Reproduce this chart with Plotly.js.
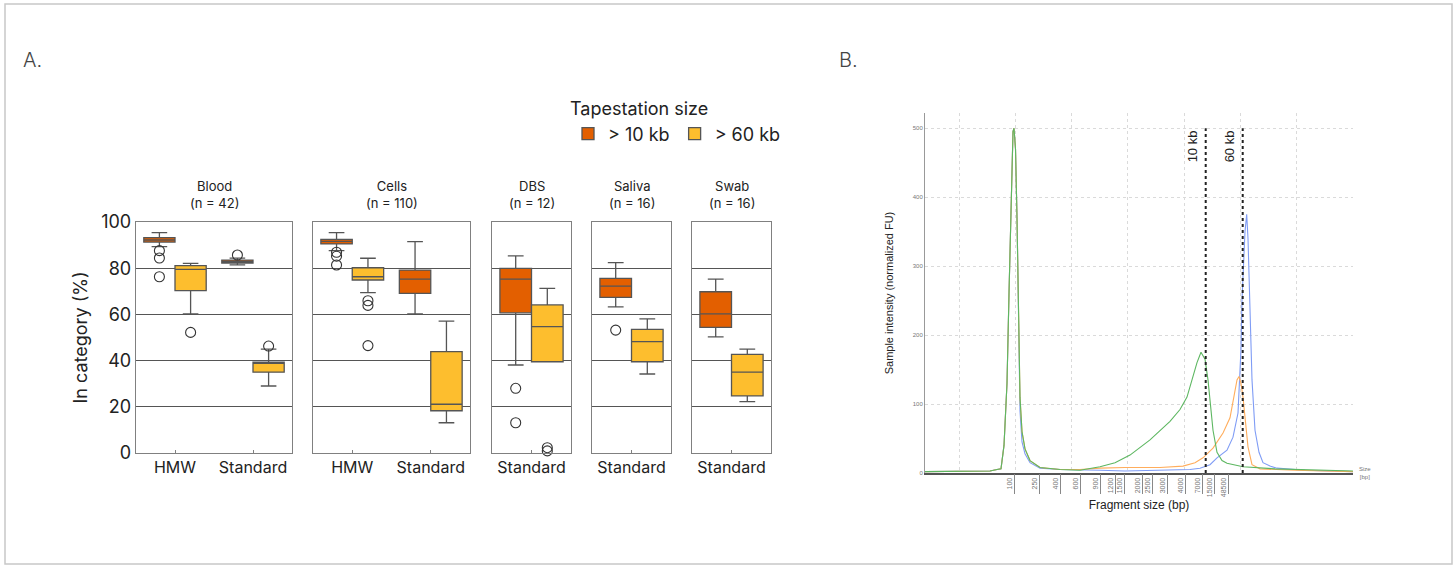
<!DOCTYPE html>
<html><head><meta charset="utf-8">
<script src="https://cdn.plot.ly/plotly-3.0.1.min.js"></script>
<style>html,body{margin:0;padding:0;background:#fff}#chart{width:1456px;height:567px}</style>
</head><body><div id="chart"></div>
<script>
// ---------- Panel A data ----------
const facets = ['Blood','Cells','DBS','Saliva','Swab'];
const facetN = [42,110,12,16,16];
const facetCats = [['HMW','Standard'],['HMW','Standard'],['Standard'],['Standard'],['Standard']];
const seriesNames = ['> 10 kb','> 60 kb'];
const seriesColors = ['#E35F00','#FDBE2E'];
const yTicks = [0,20,40,60,80,100];

// > 10 kb statistics (per facet, per category)
const lo10  = [[89.3,81.4],[87.6,60.2],[38.1],[63.3],[50.3]];
const q1_10 = [[91.3,82.2],[90.5,69.1],[60.7],[67.4],[54.4]];
const med10 = [[92.2,82.8],[91.6,75.3],[75.3],[72.2],[60.2]];
const q3_10 = [[93.2,83.5],[92.5,79.2],[79.9],[75.6],[69.8]];
const hi10  = [[95.4,84.4],[95.4,91.5],[85.3],[82.4],[75.3]];
const out10 = [[[87.6,84.4,76.3],[85.7]],[[86.9,85.2,81.4],[]],[[28.0,13.1]],[[53.2]],[[]]];

// > 60 kb statistics
const lo60  = [[60.2,29.0],[69.4,13.1],[39.5],[34.2],[22.2]];
const q1_60 = [[70.3,35.0],[74.9,18.3],[39.5],[39.5],[24.7]];
const med60 = [[79.5,38.8],[76.3,21.1],[54.7],[48.2],[35.0]];
const q3_60 = [[81.1,39.3],[80.2,43.9],[64.1],[53.5],[42.7]];
const hi60  = [[82.1,45.0],[84.3,57.1],[71.3],[58.1],[45.0]];
const out60 = [[[52.2],[46.3]],[[65.9,63.9,46.5],[]],[[2.3,0.9]],[[]],[[]]];

// ---------- Panel B data ----------
const ladderSizes = ['100','250','400','600','900','1200','1500','2000','2500','3000','4000','7000','15000','48500'];
const ladderPos = [89,114,135,155,175,190,199,217,227,242,260,277,289,303];
const cutoffLabels = ['10 kb','60 kb'];
const cutoffPos = [280.7,317.7];
const fuTicks = [0,100,200,300,400,500];

const greenPos = [0,20,40,55,65,72,76,79,82,84,86,88,89,90.5,92,93.5,95,97,100,105,115,135,155,175,190,205,225,245,255,262,267,272,276,280,283,286,288,292,297,302,318,350,400,428];
const greenFU  = [2,2,3,2,3,5,6,40,130,260,400,495,500,470,370,220,110,60,35,18,8,5,4,9,15,26,48,75,92,110,135,160,175,165,135,95,62,30,18,14,9,6,4,3];
const orangePos = [0,20,40,55,65,72,76,79,82,84,86,88,89,90.5,92,93.5,95,97,100,105,115,135,155,175,200,235,258,270,278,288,298,305,309,312,314,316,318,321,323,327,335,370,428];
const orangeFU  = [2,2,3,2,3,5,6,40,130,260,400,495,500,470,370,220,110,60,35,18,8,5,5,7,8,8,10,15,22,36,58,80,110,135,140,130,110,70,38,12,6,4,2];
const bluePos = [0,20,40,55,65,72,76,79,82,84,86,88,89,90.5,92,93.5,95,97,100,105,115,135,155,175,200,250,265,275,285,292,302,308,313,316,317,320,321.7,323,325,327,330,334,338,345,352,380,428];
const blueFU  = [2,2,3,2,3,5,6,40,130,260,400,495,500,470,370,220,90,45,28,15,7,5,4,4,3,4,5,7,12,22,33,52,87,180,251,350,375,340,251,135,62,30,15,10,7,4,2];

// ---------- Layout geometry ----------
const W = 1456, H = 567;
const px = v => v / W, py = v => 1 - v / H;
const facetX = [[136,292],[313,470],[492,571],[592,671],[692,771]];
const aTop = 222, aBot = 453;

const traces = [];
const layout = {
  width: W, height: H, margin: {l:0,r:0,t:0,b:0},
  paper_bgcolor: '#fff', plot_bgcolor: '#fff',
  font: {family: 'Inter, Roboto, sans-serif', color: '#222'},
  showlegend: true,
  legend: {
    orientation: 'h', x: px(568), xanchor: 'left', y: py(92), yanchor: 'top',
    font: {size: 18, color: '#222'},
    title: {text: 'Tapestation size', side: 'top', font: {size: 18, color: '#222'}},
    bgcolor: 'rgba(0,0,0,0)', itemclick: false, itemdoubleclick: false
  },
  annotations: [], shapes: []
};

const statSets = [
  {lo: lo10, q1: q1_10, med: med10, q3: q3_10, hi: hi10, out: out10, off: -0.2},
  {lo: lo60, q1: q1_60, med: med60, q3: q3_60, hi: hi60, out: out60, off: 0.2}
];

facets.forEach((f, i) => {
  const k = i === 0 ? '' : String(i + 1);
  const cats = facetCats[i];
  layout['xaxis' + k] = {
    domain: [px(facetX[i][0]), px(facetX[i][1])], range: [-0.5, cats.length - 0.5],
    anchor: 'y' + k, tickvals: cats.map((c, j) => j), ticktext: cats,
    showline: true, mirror: true, linecolor: '#808080', linewidth: 1.2,
    ticks: 'inside', ticklen: 3, tickcolor: '#808080',
    showgrid: false, zeroline: false, tickfont: {size: 16, color: '#222'}, fixedrange: true
  };
  layout['yaxis' + k] = {
    domain: [py(aBot), py(aTop)], range: [0, 100], anchor: 'x' + k,
    tickvals: yTicks, showticklabels: i === 0,
    showgrid: true, gridcolor: '#555', gridwidth: 1,
    showline: true, mirror: true, linecolor: '#808080', linewidth: 1.2,
    zeroline: false, ticks: '', tickfont: {size: 18, color: '#222'}, fixedrange: true
  };
  if (i === 0) {
    layout.yaxis.title = {text: 'In category (%)', font: {size: 18, color: '#222'}, standoff: 8};
  }
  layout.annotations.push({
    xref: 'paper', yref: 'paper', x: px((facetX[i][0] + facetX[i][1]) / 2), y: py(213),
    xanchor: 'center', yanchor: 'bottom', showarrow: false,
    text: f + '<br>(n = ' + facetN[i] + ')', font: {size: 13, color: '#222'}
  });
  statSets.forEach((s, si) => {
    traces.push({
      type: 'box', name: seriesNames[si], legendgroup: seriesNames[si], showlegend: i === 0,
      xaxis: 'x' + k, yaxis: 'y' + k,
      x: cats.map((c, j) => j + s.off),
      lowerfence: s.lo[i], q1: s.q1[i], median: s.med[i], q3: s.q3[i], upperfence: s.hi[i],
      width: 0.4, whiskerwidth: 0.5, boxpoints: false,
      fillcolor: seriesColors[si], line: {color: '#555', width: 1.3},
      hoverinfo: 'y'
    });
    const ox = [], oy = [];
    s.out[i].forEach((arr, j) => arr.forEach(v => { ox.push(j + s.off); oy.push(v); }));
    traces.push({
      type: 'scatter', mode: 'markers', name: seriesNames[si] + ' outliers', legendgroup: seriesNames[si],
      showlegend: false, xaxis: 'x' + k, yaxis: 'y' + k, x: ox, y: oy, cliponaxis: false,
      marker: {symbol: 'circle-open', size: 10, color: '#333', line: {width: 1.1, color: '#333'}}
    });
  });
});

// ---------- Panel B ----------
const bx0 = 925, bx1 = 1353, bTop = 113, bBot = 473;
const sans = 'Liberation Sans, Arial, sans-serif';
layout.xaxis6 = {
  domain: [px(bx0), px(bx1)], range: [0, 428], anchor: 'y6',
  showgrid: true, gridcolor: '#dadada', griddash: 'dot', gridwidth: 1,
  tick0: 34, dtick: 56.3, showticklabels: false, ticks: '',
  zeroline: false, showline: true, linecolor: '#555', linewidth: 2, fixedrange: true
};
layout.xaxis7 = {
  overlaying: 'x6', anchor: 'y6', side: 'bottom', range: [0, 428],
  tickvals: ladderPos, ticktext: ladderSizes, tickangle: -90,
  ticks: 'outside', ticklen: 20, tickcolor: '#888', tickwidth: 1,
  tickfont: {size: 7, color: '#777', family: sans},
  ticklabelstandoff: -19, ticklabelshift: -4,
  showgrid: false, zeroline: false, showline: false, fixedrange: true,
  title: {text: 'Fragment size (bp)', font: {size: 12, color: '#222', family: sans}, standoff: 4}
};
layout.yaxis6 = {
  domain: [py(bBot), py(bTop)], range: [0, 522], anchor: 'x6',
  tickvals: fuTicks, tickfont: {size: 6, color: '#777', family: sans},
  showgrid: true, gridcolor: '#dadada', griddash: 'dot', gridwidth: 1,
  showline: true, linecolor: '#999', linewidth: 1, zeroline: false, ticks: '', fixedrange: true,
  title: {text: 'Sample intensity (normalized FU)', font: {size: 11, color: '#222', family: sans}, standoff: 16}
};

const samples = [
  {x: bluePos, y: blueFU, c: '#7F9CF5', n: 'Sample 1'},
  {x: orangePos, y: orangeFU, c: '#FFAD5C', n: 'Sample 2'},
  {x: greenPos, y: greenFU, c: '#5DB761', n: 'Sample 3'}
];
samples.forEach(s => traces.push({
  type: 'scatter', mode: 'lines', x: s.x, y: s.y, xaxis: 'x6', yaxis: 'y6',
  line: {color: s.c, width: 1.1}, showlegend: false, name: s.n
}));
// invisible trace so that the ladder axis is drawn
traces.push({type: 'scatter', mode: 'markers', x: [ladderPos[0]], y: [0], xaxis: 'x7', yaxis: 'y6',
  marker: {opacity: 0}, showlegend: false, hoverinfo: 'skip'});

cutoffPos.forEach((p, i) => {
  layout.shapes.push({type: 'line', xref: 'x6', yref: 'y6', x0: p, x1: p, y0: 0, y1: 500,
    line: {color: '#222', width: 2, dash: 'dot'}});
  layout.annotations.push({xref: 'x6', yref: 'y6', x: p, y: 500, xanchor: 'right', yanchor: 'top',
    xshift: -4, textangle: -90, showarrow: false, text: cutoffLabels[i],
    font: {size: 13, color: '#222', family: sans}});
});
layout.annotations.push({xref: 'paper', yref: 'paper', x: px(1357), y: py(473), xanchor: 'left', yanchor: 'middle',
  showarrow: false, text: 'Size<br>[bp]', font: {size: 6, color: '#777', family: sans}});

// Panel letters
layout.annotations.push({xref: 'paper', yref: 'paper', x: px(21), y: py(60), xanchor: 'left', yanchor: 'middle',
  showarrow: false, text: 'A.', font: {size: 20, color: '#444', weight: 300}});
layout.annotations.push({xref: 'paper', yref: 'paper', x: px(837), y: py(60), xanchor: 'left', yanchor: 'middle',
  showarrow: false, text: 'B.', font: {size: 20, color: '#444', weight: 300}});

// outer frame
layout.shapes.push({type: 'rect', xref: 'paper', yref: 'paper', x0: px(5), x1: px(1452), y0: py(564), y1: py(4),
  line: {color: '#c8c8c8', width: 1.5}, layer: 'below'});

Plotly.newPlot('chart', traces, layout, {displayModeBar: false, staticPlot: true});
</script>
</body></html>
